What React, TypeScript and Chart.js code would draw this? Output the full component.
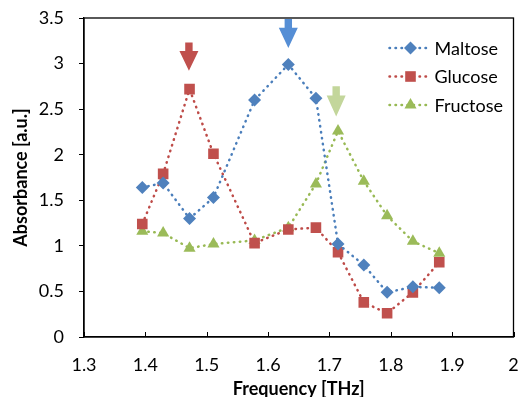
import React, { useEffect, useRef } from 'react';
import { Chart, registerables } from 'chart.js';

Chart.register(...registerables);

const seriesNames = ['Maltose', 'Glucose', 'Fructose'];
const frequencies = [1.395, 1.429, 1.472, 1.511, 1.578, 1.633, 1.678, 1.714, 1.756, 1.794, 1.836, 1.879];
const maltose = [1.64, 1.69, 1.3, 1.53, 2.6, 2.99, 2.62, 1.02, 0.79, 0.49, 0.55, 0.54];
const glucose = [1.24, 1.79, 2.72, 2.01, 1.03, 1.18, 1.2, 0.93, 0.38, 0.26, 0.49, 0.82];
const fructose = [1.16, 1.14, 0.975, 1.02, 1.06, 1.2, 1.68, 2.26, 1.71, 1.33, 1.05, 0.92];
const xTickLabels = ['1.3', '1.4', '1.5', '1.6', '1.7', '1.8', '1.9', '2'];
const yTickLabels = ['0', '0.5', '1', '1.5', '2', '2.5', '3', '3.5'];
// peak arrows: x position, top value, tip value
const arrowX = [1.471, 1.633, 1.711];
const arrowTop = [3.23, 3.49, 2.75];
const arrowTip = [2.92, 3.17, 2.42];
const arrowColors = ['#c0504d', '#558ed5', '#c3d69b'];

const lineColors = ['#4a7ebb', '#be4b48', '#98b954'];
const fillColors = ['#4f81bd', '#c0504d', '#9bbb59'];
const pointStyles = ['rectRot', 'rect', 'triangle'];
const pointRadii = [6.5, 7.5, 7];

const FONT = 'Lato, "Open Sans", sans-serif';

const framePlugin = {
  id: 'frame',
  beforeDatasetsDraw(chart: any) {
    const { ctx, chartArea } = chart;
    const xs = chart.scales.x;
    ctx.save();
    ctx.strokeStyle = '#000';
    ctx.lineWidth = 1.3;
    ctx.strokeRect(chartArea.left, chartArea.top, chartArea.right - chartArea.left, chartArea.bottom - chartArea.top);
    ctx.lineWidth = 1;
    xs.ticks.forEach((t: any) => {
      const px = Math.round(xs.getPixelForValue(t.value)) + 0.5;
      ctx.beginPath();
      ctx.moveTo(px, chartArea.bottom);
      ctx.lineTo(px, chartArea.bottom - 5);
      ctx.stroke();
    });
    ctx.restore();
  },
  afterDatasetsDraw(chart: any) {
    const { ctx } = chart;
    const xs = chart.scales.x;
    const ys = chart.scales.y;
    ctx.save();
    arrowX.forEach((xv, i) => {
      const cx = xs.getPixelForValue(xv);
      const top = ys.getPixelForValue(arrowTop[i]);
      const tip = ys.getPixelForValue(arrowTip[i]);
      const headH = (tip - top) * 0.7;
      const shaftW = 3.7;
      const headW = 9.5;
      ctx.fillStyle = arrowColors[i];
      ctx.beginPath();
      ctx.moveTo(cx - shaftW, top);
      ctx.lineTo(cx + shaftW, top);
      ctx.lineTo(cx + shaftW, tip - headH);
      ctx.lineTo(cx + headW, tip - headH);
      ctx.lineTo(cx, tip);
      ctx.lineTo(cx - headW, tip - headH);
      ctx.lineTo(cx - shaftW, tip - headH);
      ctx.closePath();
      ctx.fill();
    });
    // legend
    const { chartArea } = chart;
    const lx0 = chartArea.right - 124;
    const ly0 = chartArea.top + 30;
    ctx.font = '18px ' + FONT;
    ctx.textBaseline = 'middle';
    ctx.textAlign = 'left';
    chart.data.datasets.forEach((ds: any, i: number) => {
      const y = ly0 + i * 28.5;
      ctx.strokeStyle = ds.borderColor;
      ctx.lineWidth = 2.5;
      ctx.lineCap = 'round';
      ctx.setLineDash([0.5, 5.5]);
      ctx.beginPath();
      ctx.moveTo(lx0, y);
      ctx.lineTo(lx0 + 37, y);
      ctx.stroke();
      ctx.setLineDash([]);
      ctx.fillStyle = ds.pointBackgroundColor;
      const mx = lx0 + 21;
      const r = ds.pointRadius;
      ctx.beginPath();
      if (ds.pointStyle === 'rectRot') {
        ctx.moveTo(mx, y - r);
        ctx.lineTo(mx + r, y);
        ctx.lineTo(mx, y + r);
        ctx.lineTo(mx - r, y);
      } else if (ds.pointStyle === 'rect') {
        const s = r * Math.SQRT1_2;
        ctx.rect(mx - s, y - s, 2 * s, 2 * s);
      } else {
        ctx.moveTo(mx, y - r);
        ctx.lineTo(mx + r * 0.866, y + r * 0.5);
        ctx.lineTo(mx - r * 0.866, y + r * 0.5);
      }
      ctx.closePath();
      ctx.fill();
      ctx.fillStyle = '#000';
      ctx.fillText(ds.label, lx0 + 45, y + 1);
    });
    ctx.restore();
  },
};

export default function App() {
  const ref = useRef<HTMLCanvasElement | null>(null);
  useEffect(() => {
    if (!ref.current) return;
    const series = [maltose, glucose, fructose];
    const chart = new Chart(ref.current, {
      type: 'line',
      data: {
        datasets: series.map((vals, i) => ({
          label: seriesNames[i],
          data: vals.map((v, j) => ({ x: frequencies[j], y: v })),
          borderColor: lineColors[i],
          backgroundColor: fillColors[i],
          pointBackgroundColor: fillColors[i],
          pointBorderColor: fillColors[i],
          pointBorderWidth: 0,
          pointStyle: pointStyles[i] as any,
          pointRadius: pointRadii[i],
          borderWidth: 2.5,
          borderDash: [0.5, 5.5],
          borderCapStyle: 'round',
          tension: 0,
          fill: false,
        })),
      },
      options: {
        animation: false,
        responsive: false,
        devicePixelRatio: 1,
        layout: { padding: { top: 18, right: 6, left: 0, bottom: 0 } },
        plugins: { legend: { display: false }, tooltip: { enabled: false } },
        scales: {
          x: {
            type: 'linear',
            min: 1.3,
            max: 2,
            afterFit: (s: any) => { s.height = 60; s.paddingLeft = 0; s.paddingRight = 0; },
            ticks: {
              stepSize: 0.1,
              padding: 17,
              color: '#000',
              font: { family: FONT, size: 18 },
              callback: (v: any) => xTickLabels[Math.round((Number(v) - 1.3) * 10)] ?? '',
            },
            grid: { display: true, drawOnChartArea: false, drawTicks: false, color: '#000' },
            border: { display: true, color: '#000', width: 1.3 },
            title: {
              display: true,
              text: 'Frequency [THz]',
              color: '#000',
              font: { family: FONT, size: 18, weight: 'bold' },
              padding: { top: 0, bottom: -3 },
            },
          },
          y: {
            type: 'linear',
            min: 0,
            max: 3.5,
            afterFit: (s: any) => { s.width = 84; s.paddingTop = 0; s.paddingBottom = 0; },
            ticks: {
              stepSize: 0.5,
              padding: 15,
              color: '#000',
              font: { family: FONT, size: 18 },
              callback: (v: any) => yTickLabels[Math.round(Number(v) * 2)] ?? '',
            },
            grid: { display: true, drawOnChartArea: false, drawTicks: true, tickLength: 5, color: '#000' },
            border: { display: true, color: '#000', width: 1.3 },
            title: {
              display: true,
              text: 'Absorbance [a.u.]',
              color: '#000',
              font: { family: FONT, size: 18, weight: 'bold' },
              padding: { top: 10, bottom: 0 },
            },
          },
        },
      },
      plugins: [framePlugin],
    });
    return () => chart.destroy();
  }, []);
  return (
    <div style={{ position: 'absolute', left: 0, top: 0, width: 521, height: 397, background: '#fff' }}>
      <canvas ref={ref} width={521} height={397} style={{ display: 'block' }} />
    </div>
  );
}
